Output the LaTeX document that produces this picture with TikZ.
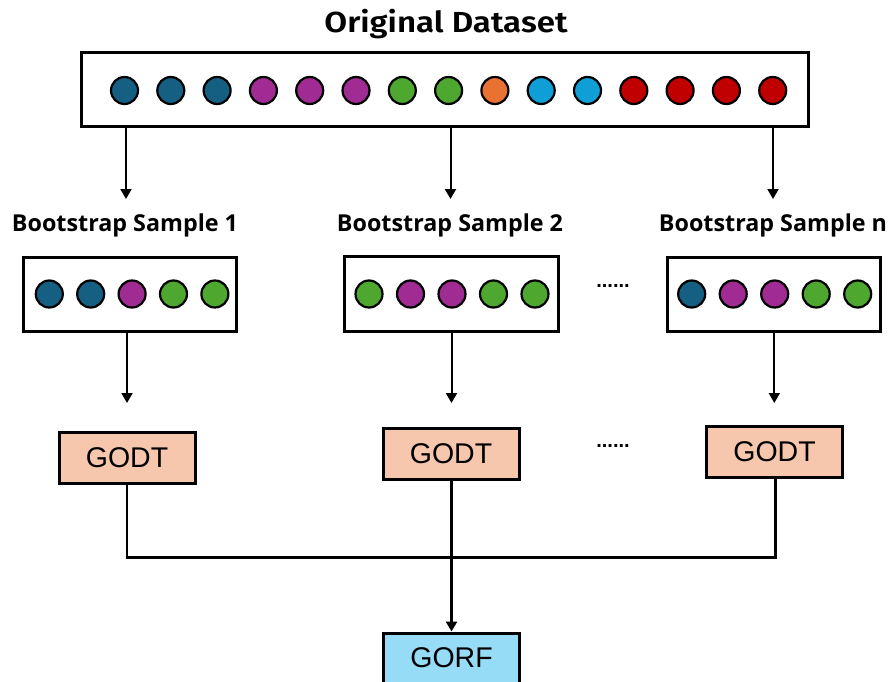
\documentclass[tikz,border=0pt]{standalone}
\usepackage{fontspec}
\setmainfont{Liberation Sans}
\newfontfamily\titlefont{Fira Sans}[UprightFont=*-SemiBold]
\newfontfamily\labelfont{Open Sans}[UprightFont=*-Bold]
\usetikzlibrary{arrows.meta}

\definecolor{cteal}{HTML}{156082}
\definecolor{cpurple}{HTML}{A02B93}
\definecolor{cgreen}{HTML}{4EA72E}
\definecolor{corange}{HTML}{E97132}
\definecolor{cblue}{HTML}{0F9ED5}
\definecolor{cred}{HTML}{C00000}
\definecolor{godtfill}{HTML}{F6C6AD}
\definecolor{gorffill}{HTML}{97DCF7}

\tikzset{
  databox/.style={draw, line width=3pt, fill=white, inner sep=0pt},
  dot/.style={circle, draw, line width=2.2pt, minimum size=27pt, inner sep=0pt},
  treebox/.style={draw, line width=3pt, fill=godtfill, minimum width=136pt,
    minimum height=51pt, inner sep=0pt, font=\fontsize{28.5}{31}\selectfont},
  forestbox/.style={treebox, fill=gorffill},
  samplelabel/.style={font=\labelfont\fontsize{23.3}{26}\selectfont, inner sep=0pt},
  flow/.style={line width=2pt, -{Triangle[length=10pt,width=11pt]}},
  joinline/.style={line width=2.5pt},
  ellipsis/.style={font=\bfseries\fontsize{20}{22}\selectfont, inner sep=0pt}
}

\begin{document}
\begin{tikzpicture}[x=1pt, y=-1pt]
  \clip (0,0) rectangle (891,682);
  \useasboundingbox (0,0) rectangle (891,682);

  % full dataset
  \node[font=\titlefont\fontsize{29}{32}\selectfont, inner sep=0pt] (title) at (446,24)
    {\scalebox{1.14}[1]{Original Dataset}};
  \node[databox, minimum width=727pt, minimum height=74pt] (data) at (445,89.5) {};
  \foreach \c [count=\i from 0] in {cteal,cteal,cteal,cpurple,cpurple,cpurple,cgreen,cgreen,corange,cblue,cblue,cred,cred,cred,cred}
    \node[dot, fill=\c] (d\i) at ({124.5+46.3*\i},90.5) {};

  % bootstrap samples
  \node[samplelabel] (lab1) at (125,225) {Bootstrap Sample 1};
  \node[samplelabel] (lab2) at (450,225) {Bootstrap Sample 2};
  \node[samplelabel] (labn) at (773,225) {Bootstrap Sample n};

  \coordinate (t1) at (126,199);
  \coordinate (t2) at (450.5,199);
  \coordinate (tn) at (773,199);
  \draw[flow] (data.south -| t1) -- (t1);
  \draw[flow] (data.south -| t2) -- (t2);
  \draw[flow] (data.south -| tn) -- (tn);

  \node[databox, minimum width=213pt, minimum height=74pt] (s1) at (130,294.5) {};
  \node[databox, minimum width=214pt, minimum height=75pt] (s2) at (451.5,294) {};
  \node[databox, minimum width=213pt, minimum height=74pt] (sn) at (774,294.5) {};

  \foreach \c [count=\i from 0] in {cteal,cteal,cpurple,cgreen,cgreen}
    \node[dot, fill=\c] (a\i) at ({49.3+41.4*\i},294) {};
  \foreach \c [count=\i from 0] in {cgreen,cpurple,cpurple,cgreen,cgreen}
    \node[dot, fill=\c] (b\i) at ({369+41.5*\i},294) {};
  \foreach \c [count=\i from 0] in {cteal,cpurple,cpurple,cgreen,cgreen}
    \node[dot, fill=\c] (c\i) at ({691.7+41.5*\i},294) {};

  \node[ellipsis] (gap1) at (613,286) {......};

  % trees
  \coordinate (u1) at (127,403);
  \coordinate (u2) at (451.5,403);
  \coordinate (un) at (774.3,403);
  \draw[flow] (s1.south -| u1) -- (u1);
  \draw[flow] (s2.south -| u2) -- (u2);
  \draw[flow] (sn.south -| un) -- (un);

  \node[treebox] (g1) at (127,457.5) {GODT};
  \node[treebox] (g2) at (451,454) {GODT};
  \node[treebox] (gn) at (774.5,451.5) {GODT};

  \node[ellipsis] (gap2) at (613,446) {......};

  % aggregation
  \node[forestbox, minimum height=80pt, anchor=north] (forest) at (451.5,631.5) {};
  \node[font=\fontsize{28.5}{31}\selectfont, inner sep=0pt] (forestlabel) at (451.5,658) {GORF};

  \coordinate (m1) at (127,557.5);
  \coordinate (mn) at (775.5,557.5);
  \draw[joinline] (g1.south) -- (m1) -- (mn) -- (gn.south -| mn);
  \draw[flow, line width=2.5pt] (g2.south -| forest.north) -- (forest.north);
\end{tikzpicture}
\end{document}
